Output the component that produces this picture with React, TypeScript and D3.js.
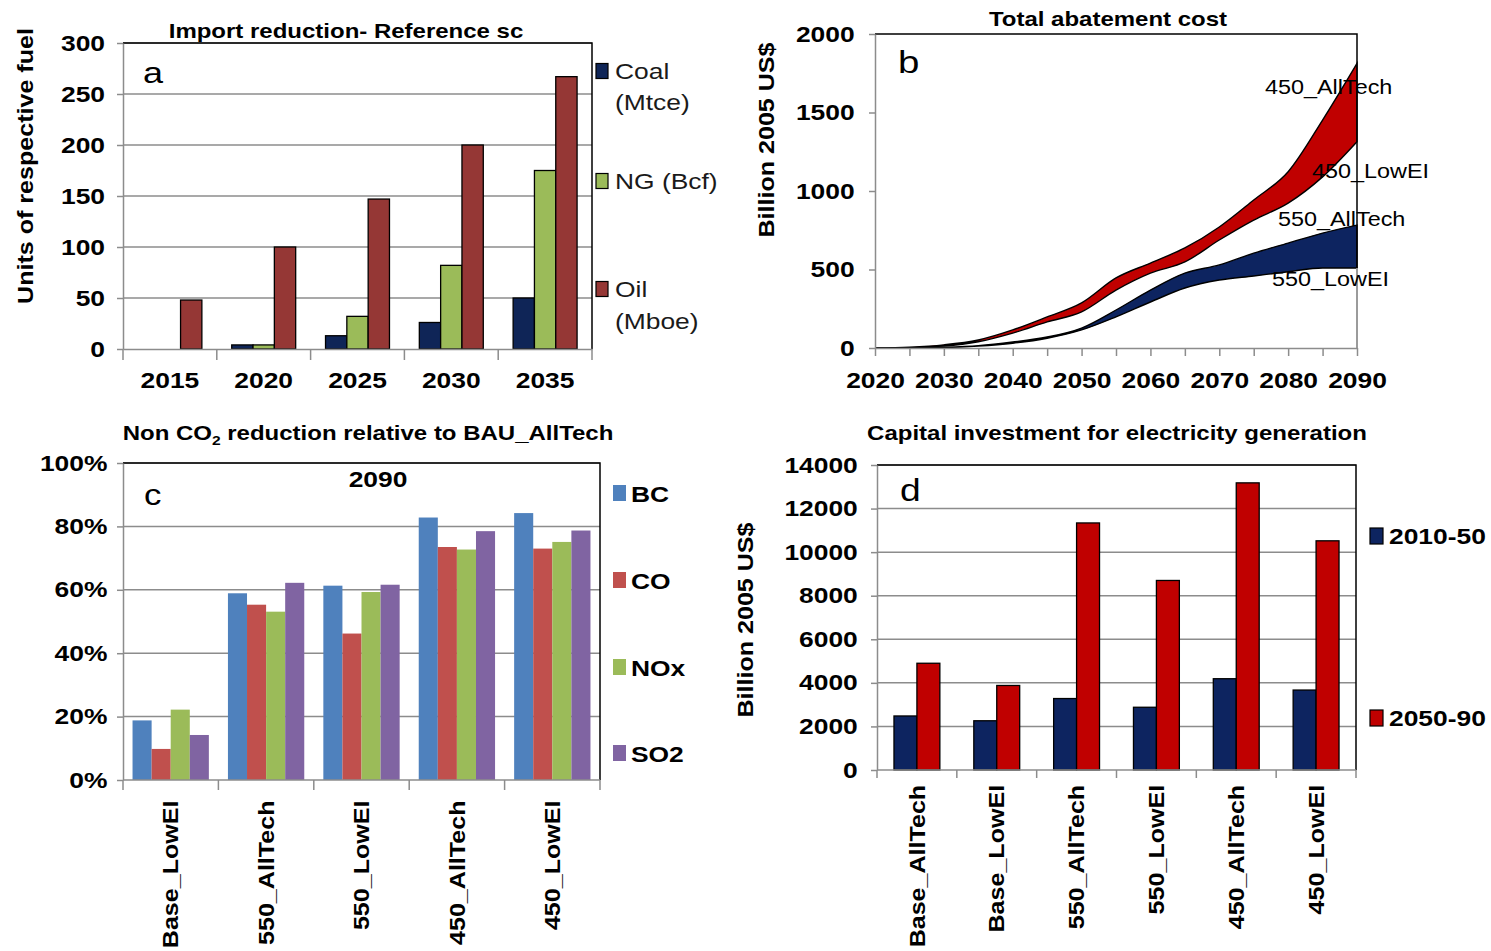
import * as d3 from 'd3'
import { useEffect, useRef } from 'react'

// ---- panel a: import reduction, reference scenario
const importYears = ['2015', '2020', '2025', '2030', '2035']
const importCoal = [0, 4, 13, 26, 50]
const importNG = [0, 4, 32, 82, 175]
const importOil = [48, 100, 147, 200, 267]
const importTicks = [0, 50, 100, 150, 200, 250, 300]

// ---- panel b: total abatement cost (billion 2005 US$)
const costYears = [2020, 2025, 2030, 2035, 2040, 2045, 2050, 2055, 2060, 2065, 2070, 2075, 2080, 2085, 2090]
const cost450AllTech = [0, 5, 20, 51, 115, 198, 287, 446, 541, 637, 771, 943, 1123, 1452, 1813]
const cost450LowEI = [0, 3, 12, 40, 95, 166, 230, 369, 477, 548, 688, 815, 923, 1090, 1314]
const cost550AllTech = [0, 1, 5, 15, 38, 70, 127, 242, 369, 477, 529, 604, 668, 732, 783]
const cost550LowEI = [0, 1, 3, 12, 30, 62, 115, 198, 293, 382, 433, 459, 486, 510, 510]
const costTicks = [0, 500, 1000, 1500, 2000]

// ---- panel c: non CO2 reduction relative to BAU_AllTech, 2090 (%)
const nonCo2Scenarios = ['Base_LowEI', '550_AllTech', '550_LowEI', '450_AllTech', '450_LowEI']
const bcReduction = [18.8, 58.9, 61.3, 82.8, 84.2]
const coReduction = [9.8, 55.3, 46.2, 73.5, 73.0]
const noxReduction = [22.2, 53.1, 59.3, 72.7, 75.1]
const so2Reduction = [14.2, 62.2, 61.6, 78.5, 78.7]
const pctTicks = [0, 20, 40, 60, 80, 100]

// ---- panel d: capital investment for electricity generation
const investScenarios = ['Base_AllTech', 'Base_LowEI', '550_AllTech', '550_LowEI', '450_AllTech', '450_LowEI']
const invest2010_50 = [2480, 2260, 3280, 2880, 4190, 3670]
const invest2050_90 = [4900, 3880, 11340, 8700, 13180, 10520]
const investTicks = [0, 2000, 4000, 6000, 8000, 10000, 12000, 14000]

const FONT = "'Liberation Sans', Arial, Helvetica, sans-serif"
const SXH = 1.2 // horizontal text in the source is stretched along its run
const SXV = 1.14 // rotated text, a bit less
const GRID = '#8c8c8c'
const INK = '#000'

function addText(g, x, y, str, size, opts: any = {}) {
  const { weight = 'bold', anchor = 'start', rotate = 0, fill = INK, dy = null } = opts
  const sx = rotate ? SXV : SXH
  const t = g
    .append('text')
    .attr('transform', `translate(${x},${y}) rotate(${rotate}) scale(${sx},1)`)
    .attr('text-anchor', anchor)
    .attr('font-family', FONT)
    .attr('font-size', size)
    .attr('font-weight', weight)
    .attr('fill', fill)
    .text(str)
  if (dy) t.attr('dy', dy)
  return t
}

function styleAxis(ax, size) {
  ax.select('.domain').attr('stroke', GRID).attr('stroke-width', 1.5)
  ax.selectAll('line').attr('stroke', GRID).attr('stroke-width', 1.5)
  ax.selectAll('text')
    .attr('font-family', FONT)
    .attr('font-size', size)
    .attr('font-weight', 'bold')
    .attr('fill', INK)
}

function leftAxis(svg, y, left, ticks, fmt, pad) {
  const ax = svg
    .append('g')
    .attr('transform', `translate(${left},0)`)
    .call(d3.axisLeft(y).tickValues(ticks).tickSize(6).tickSizeOuter(0).tickPadding(pad).tickFormat(fmt))
  styleAxis(ax, 22)
  ax.selectAll('text').attr('transform', `scale(${SXH},1)`)
}

function grid(svg, y, x0, x1, ticks) {
  svg
    .append('g')
    .selectAll('line')
    .data(ticks.slice(1))
    .join('line')
    .attr('x1', x0)
    .attr('x2', x1)
    .attr('y1', (d) => y(d))
    .attr('y2', (d) => y(d))
    .attr('stroke', GRID)
    .attr('stroke-width', 1.5)
}

function frame(svg, x0, x1, y0, y1) {
  svg
    .append('path')
    .attr('d', `M${x0},${y0}H${x1}V${y1}`)
    .attr('fill', 'none')
    .attr('stroke', INK)
    .attr('stroke-width', 1.5)
}

function bandTicks(svg, x, bottom, len) {
  const [r0] = x.range()
  svg
    .append('g')
    .selectAll('line')
    .data(d3.range(x.domain().length + 1))
    .join('line')
    .attr('x1', (i) => r0 + i * x.step())
    .attr('x2', (i) => r0 + i * x.step())
    .attr('y1', bottom)
    .attr('y2', bottom + len)
    .attr('stroke', GRID)
    .attr('stroke-width', 1.5)
}

function groupedBars(svg, x, y, series, colors, keys, outer, stroke) {
  const inner = d3.scaleBand().domain(keys).range([0, x.bandwidth()]).paddingInner(0).paddingOuter(outer)
  const rows = []
  series.forEach((vals, si) => {
    vals.forEach((v, ci) => {
      if (v > 0) rows.push({ cat: x.domain()[ci], key: keys[si], v, color: colors[si] })
    })
  })
  svg
    .append('g')
    .selectAll('rect')
    .data(rows)
    .join('rect')
    .attr('x', (d) => x(d.cat) + inner(d.key))
    .attr('y', (d) => y(d.v))
    .attr('width', inner.bandwidth())
    .attr('height', (d) => y(0) - y(d.v))
    .attr('fill', (d) => d.color)
    .attr('stroke', stroke ? INK : 'none')
    .attr('stroke-width', 1.3)
}

function rotatedCats(svg, x, bottom, pad) {
  const ax = svg
    .append('g')
    .attr('transform', `translate(0,${bottom})`)
    .call(d3.axisBottom(x).tickSize(0))
  ax.select('.domain').remove()
  ax.selectAll('text')
    .attr('font-family', FONT)
    .attr('font-size', 22)
    .attr('font-weight', 'bold')
    .attr('fill', INK)
    .attr('text-anchor', 'end')
    .attr('x', -pad)
    .attr('y', 0)
    .attr('dy', '0.35em')
    .attr('transform', `rotate(-90) scale(${SXV},1)`)
}

function legendBox(svg, x, cy, w, h, color, stroke) {
  svg
    .append('rect')
    .attr('x', x)
    .attr('y', cy - h / 2)
    .attr('width', w)
    .attr('height', h)
    .attr('fill', color)
    .attr('stroke', stroke ? INK : 'none')
    .attr('stroke-width', 1.2)
}

const App = () => {
  const ref = useRef(null)

  useEffect(() => {
    const svg = d3.select(ref.current)
    svg.selectAll('*').remove()

    // ================= panel a =================
    {
      const L = 123, R = 592, T = 43, B = 349
      const x = d3.scaleBand().domain(importYears).range([L, R]).padding(0)
      const y = d3.scaleLinear().domain([0, 300]).range([B, T])
      const colors = ['#0f2557', '#9bbb59', '#953735']
      grid(svg, y, L, R, importTicks)
      groupedBars(svg, x, y, [importCoal, importNG, importOil], colors, ['Coal', 'NG', 'Oil'], 0.7, true)
      frame(svg, L, R, T, B)
      leftAxis(svg, y, L, importTicks, d3.format('d'), 9)
      const bx = svg.append('g').attr('transform', `translate(0,${B})`).call(d3.axisBottom(x).tickSize(0).tickPadding(23))
      styleAxis(bx, 22)
      bx.selectAll('text').attr('transform', `scale(${SXH},1)`)
      bandTicks(svg, x, B, 11)

      addText(svg, 346, 38, 'Import reduction- Reference sc', 20, { anchor: 'middle' })
      addText(svg, 143, 83, 'a', 30, { weight: 'normal' })
      addText(svg, 25, 166, 'Units of respective fuel', 22, { anchor: 'middle', rotate: -90, dy: '0.35em' })

      const lx = 596
      const lc = '#1a1a1a'
      legendBox(svg, lx, 71, 12, 15, colors[0], true)
      addText(svg, 615, 79, 'Coal', 22, { weight: 'normal', fill: lc })
      addText(svg, 615, 110, '(Mtce)', 22, { weight: 'normal', fill: lc })
      legendBox(svg, lx, 181, 12, 15, colors[1], true)
      addText(svg, 615, 189, 'NG (Bcf)', 22, { weight: 'normal', fill: lc })
      legendBox(svg, lx, 289, 12, 15, colors[2], true)
      addText(svg, 615, 297, 'Oil', 22, { weight: 'normal', fill: lc })
      addText(svg, 615, 329, '(Mboe)', 22, { weight: 'normal', fill: lc })
    }

    // ================= panel b =================
    {
      const L = 875, R = 1357, T = 34, B = 348
      const x = d3.scaleLinear().domain([2020, 2090]).range([L, R])
      const y = d3.scaleLinear().domain([0, 2000]).range([B, T])
      const area = d3
        .area()
        .x((d) => x(d[0]))
        .y0((d) => y(d[1]))
        .y1((d) => y(d[2]))
        .curve(d3.curveMonotoneX)
      const red = costYears.map((yr, i) => [yr, cost450LowEI[i], cost450AllTech[i]])
      const blue = costYears.map((yr, i) => [yr, cost550LowEI[i], cost550AllTech[i]])
      svg.append('path').attr('d', area(red)).attr('fill', '#c00000').attr('stroke', INK).attr('stroke-width', 1.4)
      svg.append('path').attr('d', area(blue)).attr('fill', '#0d2460').attr('stroke', INK).attr('stroke-width', 1.4)

      frame(svg, L, R, T, B)
      svg.append('line').attr('x1', R).attr('x2', R).attr('y1', y(cost550LowEI[cost550LowEI.length - 1])).attr('y2', B).attr('stroke', '#bbb').attr('stroke-width', 1.5)
      leftAxis(svg, y, L, costTicks, d3.format('d'), 11)
      const bx = svg
        .append('g')
        .attr('transform', `translate(0,${B})`)
        .call(
          d3
            .axisBottom(x)
            .tickValues(costYears)
            .tickSize(8)
            .tickSizeOuter(0)
            .tickPadding(16)
            .tickFormat((d) => (d % 10 === 0 ? String(d) : ''))
        )
      styleAxis(bx, 22)
      bx.selectAll('text').attr('transform', `scale(${SXH},1)`)

      addText(svg, 1108, 26, 'Total abatement cost', 20, { anchor: 'middle' })
      addText(svg, 898, 73, 'b', 32, { weight: 'normal' })
      addText(svg, 766, 140, 'Billion 2005 US$', 22, { anchor: 'middle', rotate: -90, dy: '0.35em' })

      addText(svg, 1265, 94, '450_AllTech', 19.5, { weight: 'normal' })
      addText(svg, 1312, 178, '450_LowEI', 19.5, { weight: 'normal' })
      addText(svg, 1278, 226, '550_AllTech', 19.5, { weight: 'normal' })
      addText(svg, 1272, 286, '550_LowEI', 19.5, { weight: 'normal' })
    }

    // ================= panel c =================
    {
      const L = 123, R = 600, T = 463, B = 780
      const x = d3.scaleBand().domain(nonCo2Scenarios).range([L, R]).padding(0)
      const y = d3.scaleLinear().domain([0, 100]).range([B, T])
      const colors = ['#4f81bd', '#c0504d', '#9bbb59', '#8064a2']
      grid(svg, y, L, R, pctTicks)
      groupedBars(svg, x, y, [bcReduction, coReduction, noxReduction, so2Reduction], colors, ['BC', 'CO', 'NOx', 'SO2'], 0.5, false)
      frame(svg, L, R, T, B)
      leftAxis(svg, y, L, pctTicks, (d) => d + '%', 7)
      svg.append('line').attr('x1', L).attr('x2', R).attr('y1', B).attr('y2', B).attr('stroke', GRID).attr('stroke-width', 1.5)
      bandTicks(svg, x, B, 10)
      rotatedCats(svg, x, B, 18)

      const title = svg
        .append('text')
        .attr('transform', `translate(368,440) scale(${SXH},1)`)
        .attr('text-anchor', 'middle')
        .attr('font-family', FONT)
        .attr('font-size', 20)
        .attr('font-weight', 'bold')
        .attr('fill', INK)
      title.append('tspan').text('Non CO')
      title.append('tspan').attr('font-size', 13).attr('dy', 5).text('2')
      title.append('tspan').attr('dy', -5).text(' reduction relative to BAU_AllTech')

      addText(svg, 378, 487, '2090', 22, { anchor: 'middle' })
      addText(svg, 144, 505, 'c', 29, { weight: 'normal' })

      const names = ['BC', 'CO', 'NOx', 'SO2']
      const cys = [493, 580, 667, 753]
      names.forEach((n, i) => {
        legendBox(svg, 613, cys[i], 13, 16, colors[i], false)
        addText(svg, 631, cys[i] + 9, n, 22)
      })
    }

    // ================= panel d =================
    {
      const L = 877, R = 1356, T = 465, B = 770
      const x = d3.scaleBand().domain(investScenarios).range([L, R]).padding(0)
      const y = d3.scaleLinear().domain([0, 14000]).range([B, T])
      const colors = ['#0d2460', '#c00000']
      grid(svg, y, L, R, investTicks)
      groupedBars(svg, x, y, [invest2010_50, invest2050_90], colors, ['2010-50', '2050-90'], 0.74, true)
      frame(svg, L, R, T, B)
      leftAxis(svg, y, L, investTicks, d3.format('d'), 10)
      svg.append('line').attr('x1', L).attr('x2', R).attr('y1', B).attr('y2', B).attr('stroke', GRID).attr('stroke-width', 1.5)
      bandTicks(svg, x, B, 8)
      rotatedCats(svg, x, B, 13)

      addText(svg, 1117, 440, 'Capital investment for electricity generation', 20, { anchor: 'middle' })
      addText(svg, 900, 501, 'd', 31, { weight: 'normal' })
      addText(svg, 745, 620, 'Billion 2005 US$', 22, { anchor: 'middle', rotate: -90, dy: '0.35em' })

      legendBox(svg, 1370, 536, 13, 16, colors[0], true)
      addText(svg, 1389, 544, '2010-50', 22)
      legendBox(svg, 1370, 718, 13, 16, colors[1], true)
      addText(svg, 1389, 726, '2050-90', 22)
    }
  }, [])

  return (
    <svg
      ref={ref}
      width={1491}
      height={951}
      style={{ position: 'absolute', left: 0, top: 0, background: '#fff' }}
    ></svg>
  )
}

export default App
